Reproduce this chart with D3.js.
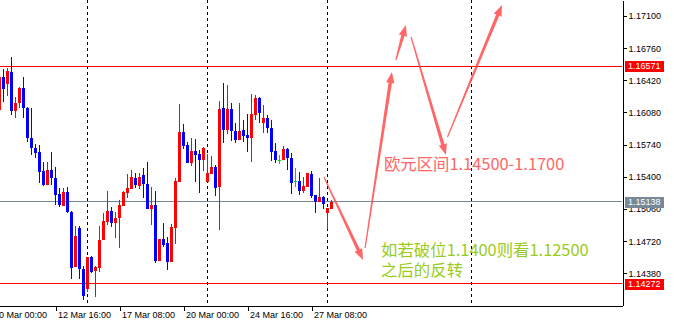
<!DOCTYPE html>
<html>
<head>
<meta charset="utf-8">
<script src="https://cdn.jsdelivr.net/npm/d3@7"></script>
<style>
    body { margin: 0; background: #ffffff; }
    svg { display: block; }
    .axis text { font-family: "Liberation Sans", Arial, sans-serif; font-size: 9px; fill: #000; }
    .axis path, .axis line { stroke: #000; shape-rendering: crispEdges; }
</style>
</head>
<body>
<div id="vis"></div>
<script>
// EURUSD H4 candles
const OPEN = [1.16106, 1.16455, 1.16378, 1.16508, 1.16099, 1.16177, 1.16335, 1.16130, 1.15807, 1.15701,
    1.15659, 1.15461, 1.15313, 1.15472, 1.15390, 1.15215, 1.15094, 1.15236, 1.15025, 1.14449,
    1.14859, 1.14422, 1.14210, 1.14555, 1.14404, 1.14439, 1.14732, 1.14925, 1.15038, 1.14915,
    1.14961, 1.15094, 1.15232, 1.15274, 1.15390, 1.15306, 1.15419, 1.15321, 1.15060, 1.15102,
    1.14510, 1.14742, 1.14697, 1.14502, 1.14862, 1.15348, 1.15877, 1.15736, 1.15549, 1.15673,
    1.15641, 1.15577, 1.15348, 1.15429, 1.15507, 1.15295, 1.16124, 1.15895, 1.16113, 1.15887,
    1.15789, 1.15895, 1.15842, 1.15813, 1.16053, 1.16236, 1.15972, 1.16019, 1.15913, 1.15673,
    1.15577, 1.15577, 1.15691, 1.15595, 1.15355, 1.15355, 1.15250, 1.15295, 1.15426, 1.15207,
    1.15137, 1.15189, 1.15020, 1.15060];
const HIGH = [1.16470, 1.16540, 1.16553, 1.16670, 1.16240, 1.16352, 1.16452, 1.16141, 1.16124, 1.15743,
    1.15736, 1.15553, 1.15559, 1.15665, 1.15507, 1.15285, 1.15285, 1.15295, 1.15038, 1.14880,
    1.14880, 1.14457, 1.14549, 1.14566, 1.14460, 1.14880, 1.15020, 1.15250, 1.15084, 1.15028,
    1.15155, 1.15250, 1.15429, 1.15472, 1.15443, 1.15437, 1.15491, 1.15559, 1.15295, 1.15250,
    1.14745, 1.14915, 1.14767, 1.14901, 1.15390, 1.16166, 1.15955, 1.15771, 1.15813, 1.15799,
    1.15683, 1.15718, 1.15641, 1.15620, 1.15525, 1.16204, 1.16388, 1.16370, 1.16177, 1.15965,
    1.16177, 1.16000, 1.16061, 1.16272, 1.16265, 1.16247, 1.16159, 1.16053, 1.16000, 1.15754,
    1.15630, 1.15725, 1.15701, 1.15648, 1.15491, 1.15447, 1.15401, 1.15440, 1.15461, 1.15210,
    1.15390, 1.15192, 1.15075, 1.15155];
const LOW = [1.16090, 1.16194, 1.16251, 1.16053, 1.16025, 1.16124, 1.16025, 1.15765, 1.15630, 1.15602,
    1.15331, 1.15306, 1.15310, 1.15313, 1.15102, 1.15084, 1.15090, 1.15020, 1.14319, 1.14445,
    1.14319, 1.14097, 1.14185, 1.14386, 1.14132, 1.14397, 1.14732, 1.14891, 1.14872, 1.14756,
    1.14650, 1.15094, 1.15173, 1.15274, 1.15281, 1.15271, 1.15173, 1.15055, 1.14891, 1.14492,
    1.14505, 1.14655, 1.14415, 1.14500, 1.14686, 1.15345, 1.15694, 1.15545, 1.15517, 1.15348,
    1.15232, 1.15464, 1.15345, 1.15425, 1.15197, 1.14837, 1.15754, 1.15852, 1.15778, 1.15754,
    1.15785, 1.15771, 1.15665, 1.15559, 1.16000, 1.15965, 1.15866, 1.15860, 1.15567, 1.15543,
    1.15532, 1.15575, 1.15472, 1.15218, 1.15295, 1.15207, 1.15225, 1.15290, 1.15173, 1.15014,
    1.15135, 1.15060, 1.14848, 1.15055];
const CLOSE = [1.16458, 1.16333, 1.16522, 1.16096, 1.16177, 1.16342, 1.16124, 1.15813, 1.15701, 1.15648,
    1.15454, 1.15313, 1.15472, 1.15384, 1.15207, 1.15102, 1.15236, 1.15025, 1.14439, 1.14774,
    1.14425, 1.14143, 1.14549, 1.14397, 1.14449, 1.14732, 1.14933, 1.15038, 1.14915, 1.14967,
    1.15102, 1.15242, 1.15285, 1.15401, 1.15316, 1.15401, 1.15321, 1.15060, 1.15102, 1.14510,
    1.14742, 1.14679, 1.14499, 1.14872, 1.15355, 1.15877, 1.15729, 1.15549, 1.15673, 1.15630,
    1.15577, 1.15708, 1.15437, 1.15500, 1.15285, 1.16113, 1.15895, 1.16113, 1.15884, 1.15789,
    1.15884, 1.15834, 1.15813, 1.16064, 1.16230, 1.16071, 1.16019, 1.15913, 1.15665, 1.15577,
    1.15577, 1.15691, 1.15595, 1.15331, 1.15355, 1.15250, 1.15303, 1.15437, 1.15200, 1.15137,
    1.15189, 1.15112, 1.15073, 1.15138];

// time axis (bar index of each label) and price axis
const TIME_TICKS = [-2, 14, 30, 46, 62, 78];
const TIME_LABELS = ["10 Mar 00:00", "12 Mar 16:00", "17 Mar 08:00", "20 Mar 00:00", "24 Mar 16:00", "27 Mar 08:00"];
const PRICE_TICKS = [1.17100, 1.16760, 1.16420, 1.16080, 1.15740, 1.15400, 1.15060, 1.14720, 1.14380];

// week separators and horizontal levels
const SEPARATORS = [22, 52, 82, 118];
const LEVEL_PRICES = [1.16571, 1.15138, 1.14272];
const LEVEL_COLORS = ["#ff0000", "#778899", "#ff0000"];

// hand drawn arrows: [bar, price] start and end
const ARROWS = [
    [[81.1, 1.15398], [90.9, 1.14521]],
    [[91.4, 1.14648], [98.1, 1.16508]],
    [[99.1, 1.16635], [101.6, 1.17005]],
    [[102.9, 1.16878], [111.6, 1.15631]],
    [[112.0, 1.15821], [125.6, 1.17216]]
];

const NOTE_RANGE = "欧元区间1.14500-1.1700";
const NOTE_BREAK = ["如若破位1.1400则看1.12500", "之后的反转"];

const FRAME_WIDTH = 674;
const FRAME_HEIGHT = 325;
const PLOT_W = 622;
const PLOT_H = 305;

const FRAME = d3.select("#vis")
                .append("svg")
                    .attr("width", FRAME_WIDTH)
                    .attr("height", FRAME_HEIGHT);

const X = d3.scaleLinear()
            .domain([0, (PLOT_W + 0.5) / 4])
            .range([-0.5, PLOT_W]);

const Y = d3.scaleLinear()
            .domain([1.14045, 1.17269])
            .range([PLOT_H, 0]);

const crisp = (v) => Math.round(v - 0.5) + 0.5;

// week separators
FRAME.selectAll(".sep")
    .data(SEPARATORS)
    .enter()
    .append("line")
        .attr("x1", (d) => X(d))
        .attr("x2", (d) => X(d))
        .attr("y1", 0)
        .attr("y2", PLOT_H)
        .attr("stroke", "#000")
        .attr("stroke-dasharray", "3,3")
        .attr("shape-rendering", "crispEdges");

// horizontal levels
FRAME.selectAll(".level")
    .data(LEVEL_PRICES)
    .enter()
    .append("line")
        .attr("x1", 0)
        .attr("x2", PLOT_W)
        .attr("y1", (d) => crisp(Y(d)))
        .attr("y2", (d) => crisp(Y(d)))
        .attr("stroke", (d, i) => LEVEL_COLORS[i])
        .attr("shape-rendering", "crispEdges");

// candles
const bars = d3.range(OPEN.length);
const colorOf = (i) => CLOSE[i] > OPEN[i] ? "#ff0000" : (CLOSE[i] < OPEN[i] ? "#0000ff" : "#00d000");

FRAME.selectAll(".wick")
    .data(bars)
    .enter()
    .append("line")
        .attr("x1", (i) => X(i))
        .attr("x2", (i) => X(i))
        .attr("y1", (i) => Math.round(Y(HIGH[i])))
        .attr("y2", (i) => Math.round(Y(LOW[i])))
        .attr("stroke", colorOf)
        .attr("shape-rendering", "crispEdges");

FRAME.selectAll(".body")
    .data(bars)
    .enter()
    .append("rect")
        .attr("x", (i) => X(i) - 1.5)
        .attr("width", 3)
        .attr("y", (i) => Math.round(Y(Math.max(OPEN[i], CLOSE[i]))))
        .attr("height", (i) => Math.max(1, Math.round(Y(Math.min(OPEN[i], CLOSE[i]))) - Math.round(Y(Math.max(OPEN[i], CLOSE[i])))))
        .attr("fill", colorOf)
        .attr("shape-rendering", "crispEdges");

// arrows, tapered shaft with a head
function arrowPath(a) {
    const x0 = X(a[0][0]), y0 = Y(a[0][1]);
    const x1 = X(a[1][0]), y1 = Y(a[1][1]);
    const len = Math.hypot(x1 - x0, y1 - y0);
    const ux = (x1 - x0) / len, uy = (y1 - y0) / len;
    const nx = -uy, ny = ux;
    const head = 11, hw = 4.2, w0 = 0.6, w1 = 1.7;
    const bx = x1 - ux * head, by = y1 - uy * head;
    const pts = [
        [x0 + nx * w0, y0 + ny * w0],
        [bx + nx * w1, by + ny * w1],
        [bx + nx * hw, by + ny * hw],
        [x1, y1],
        [bx - nx * hw, by - ny * hw],
        [bx - nx * w1, by - ny * w1],
        [x0 - nx * w0, y0 - ny * w0]
    ];
    return "M" + pts.map((p) => p.join(",")).join("L") + "Z";
}

FRAME.selectAll(".arrow")
    .data(ARROWS)
    .enter()
    .append("path")
        .attr("d", arrowPath)
        .attr("fill", "#ff5555")
        .attr("fill-opacity", 0.9);

// notes
FRAME.append("text")
    .attr("x", X(96.1))
    .attr("y", Y(1.15467))
    .attr("font-family", "'Noto Sans CJK SC', sans-serif")
    .attr("font-size", "16.4px")
    .attr("fill", "#ff6666")
    .text(NOTE_RANGE);

FRAME.append("text")
    .attr("x", X(95.4))
    .attr("y", Y(1.14563))
    .attr("font-family", "'Noto Sans CJK SC', sans-serif")
    .attr("font-size", "16.4px")
    .attr("fill", "#99cc22")
    .selectAll("tspan")
    .data(NOTE_BREAK)
    .enter()
    .append("tspan")
        .attr("x", X(95.4))
        .attr("dy", (d, i) => i === 0 ? 0 : "1.25em")
        .text((d) => d);

// axes
FRAME.append("g")
    .attr("class", "axis")
    .attr("transform", "translate(0," + (PLOT_H + 0.5) + ")")
    .call(d3.axisBottom(X)
            .tickValues(TIME_TICKS)
            .tickSize(5)
            .tickSizeOuter(0)
            .tickPadding(1)
            .tickFormat((d, i) => TIME_LABELS[i]))
    .selectAll("text")
        .attr("text-anchor", "start")
        .attr("x", 2);

FRAME.append("g")
    .attr("class", "axis")
    .attr("transform", "translate(" + (PLOT_W + 0.5) + ",0)")
    .call(d3.axisRight(Y)
            .tickValues(PRICE_TICKS)
            .tickSize(4)
            .tickSizeOuter(0)
            .tickPadding(2)
            .tickFormat(d3.format(".5f")));

// price tags on the right axis
const TAGS = FRAME.selectAll(".tag")
    .data(LEVEL_PRICES)
    .enter()
    .append("g")
        .attr("transform", (d) => "translate(625," + Math.round(Y(d)) + ")");

TAGS.append("rect")
    .attr("x", 0)
    .attr("y", -5)
    .attr("width", 39)
    .attr("height", 11)
    .attr("fill", (d, i) => LEVEL_COLORS[i]);

TAGS.append("text")
    .attr("x", 3)
    .attr("y", 0)
    .attr("dy", "0.35em")
    .attr("font-family", "'Liberation Sans', Arial, sans-serif")
    .attr("font-size", "9px")
    .attr("fill", "#fff")
    .text((d) => d3.format(".5f")(d));
</script>
</body>
</html>
